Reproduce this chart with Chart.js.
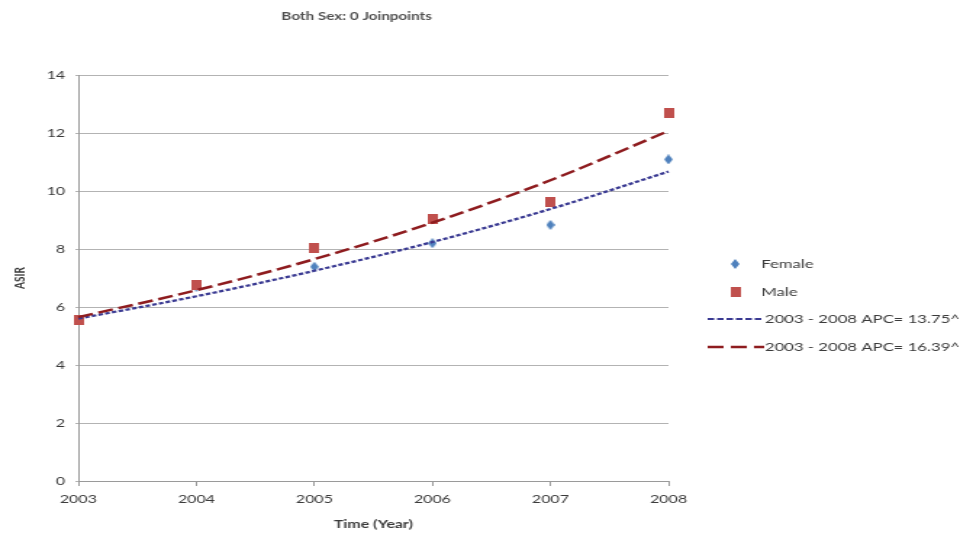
<!DOCTYPE html>
<html>
<head>
<meta charset="utf-8">
<script src="https://cdn.jsdelivr.net/npm/chart.js@4.4.1/dist/chart.umd.min.js"></script>
<style>
html,body{margin:0;padding:0;background:#fff;overflow:hidden;}
#c{display:block;width:973px;height:541px;}
</style>
</head>
<body>
<canvas id="c" width="671" height="541" style="width:973px;height:541px"></canvas>
<script>
const years = ['2003','2004','2005','2006','2007','2008'];
const femaleObserved = [5.55, 6.7, 7.39, 8.2, 8.83, 11.09];
const maleObserved = [5.55, 6.76, 8.02, 9.02, 9.63, 12.68];
const femaleModeled = [5.6, 6.37, 7.25, 8.24, 9.38, 10.67];
const maleModeled = [5.65, 6.58, 7.65, 8.91, 10.37, 12.07];
const seriesNames = ['Female', 'Male', '2003 - 2008 APC= 13.75^', '2003 - 2008 APC= 16.39^'];
const titleText = 'Both Sex: 0 Joinpoints';
const yTicks = [0, 2, 4, 6, 8, 10, 12, 14];

// The reference picture is stretched horizontally; canvas is drawn narrower and widened by CSS.
const FONT = 'Lato, "Open Sans", sans-serif';
const TXT = '#3a3a3a';
const BLUE = '#4F81BD', RED = '#C0504D';
const FIT_BLUE = '#3A3A92', FIT_RED = '#8E1C1F';

function markerCanvas(kind, color) {
  const c = document.createElement('canvas');
  const w = kind === 'diamond' ? 6 : 7, h = 10;
  c.width = w; c.height = h;
  const g = c.getContext('2d');
  g.fillStyle = color;
  if (kind === 'diamond') {
    g.beginPath();
    g.moveTo(w / 2, 0); g.lineTo(w, h / 2); g.lineTo(w / 2, h); g.lineTo(0, h / 2);
    g.closePath(); g.fill();
  } else {
    g.fillRect(0, 0, w, h);
  }
  return c;
}
const diamondImg = markerCanvas('diamond', BLUE);
const squareImg = markerCanvas('square', RED);

const extrasPlugin = {
  id: 'extras',
  afterDraw(chart) {
    const ctx = chart.ctx;
    ctx.save();
    // title
    ctx.font = 'bold 10.5px ' + FONT;
    ctx.fillStyle = '#505050';
    ctx.textAlign = 'center';
    ctx.textBaseline = 'middle';
    ctx.fillText(titleText, 246, 17);
    // legend
    ctx.textAlign = 'left';
    ctx.font = '11.5px ' + FONT;
    const ys = [264, 292, 319, 347];
    ctx.drawImage(diamondImg, 507 - 3, ys[0] - 5);
    ctx.fillStyle = TXT;
    ctx.fillText(seriesNames[0], 525, ys[0]);
    ctx.drawImage(squareImg, 507 - 3.5, ys[1] - 5);
    ctx.fillText(seriesNames[1], 525, ys[1]);
    ctx.lineCap = 'butt';
    ctx.strokeStyle = FIT_BLUE; ctx.lineWidth = 2; ctx.setLineDash([4.5, 2]);
    ctx.beginPath(); ctx.moveTo(488, ys[2]); ctx.lineTo(527, ys[2]); ctx.stroke();
    ctx.strokeStyle = FIT_RED; ctx.lineWidth = 2.5; ctx.setLineDash([11, 5]);
    ctx.beginPath(); ctx.moveTo(488, ys[3]); ctx.lineTo(527, ys[3]); ctx.stroke();
    ctx.setLineDash([]);
    ctx.fillText(seriesNames[2], 527.5, ys[2]);
    ctx.fillText(seriesNames[3], 527.5, ys[3]);
    ctx.restore();
  }
};

new Chart(document.getElementById('c'), {
  type: 'line',
  data: {
    labels: years,
    datasets: [
      { label: seriesNames[0], data: femaleObserved, showLine: false, pointStyle: diamondImg,
        pointRadius: 5, borderColor: BLUE, backgroundColor: BLUE, order: 3 },
      { label: seriesNames[1], data: maleObserved, showLine: false, pointStyle: squareImg,
        pointRadius: 5, borderColor: RED, backgroundColor: RED, order: 2 },
      { label: seriesNames[2], data: femaleModeled, borderColor: FIT_BLUE, borderWidth: 2.3, borderDash: [3.2, 1.6],
        pointRadius: 0, cubicInterpolationMode: 'monotone', fill: false, order: 1 },
      { label: seriesNames[3], data: maleModeled, borderColor: FIT_RED, borderWidth: 2.5, borderDash: [10.5, 4],
        pointRadius: 0, cubicInterpolationMode: 'monotone', fill: false, order: 0 }
    ]
  },
  options: {
    responsive: false,
    animation: false,
    devicePixelRatio: 1,
    layout: { padding: { left: 0, right: 210, top: 75, bottom: 0 } },
    plugins: {
      legend: { display: false },
      tooltip: { enabled: false },
      title: { display: false }
    },
    scales: {
      x: {
        type: 'category',
        offset: false,
        afterFit(scale) { scale.height = 60; },
        grid: { display: true, drawOnChartArea: false, drawTicks: true, tickLength: 5, color: '#9a9a9a' },
        border: { display: true, color: '#9a9a9a' },
        ticks: { color: TXT, font: { family: FONT, size: 11 }, padding: 7, maxRotation: 0, autoSkip: false },
        title: { display: true, text: 'Time (Year)', color: TXT, font: { family: FONT, size: 11, weight: 'bold' },
          padding: { top: 10, bottom: 10 } }
      },
      y: {
        min: 0, max: 14,
        afterFit(scale) { scale.width = 54; },
        afterBuildTicks(scale) { scale.ticks = yTicks.map(v => ({ value: v })); },
        grid: { color: '#b3b3b3', drawTicks: true, tickLength: 2, lineWidth: 1 },
        border: { display: true, color: '#9a9a9a' },
        ticks: { color: TXT, font: { family: FONT, size: 11 }, padding: 7 },
        title: { display: true, text: 'ASIR', color: TXT, font: { family: FONT, size: 10, weight: 'bold' },
          padding: { top: 8, bottom: 0 } }
      }
    }
  },
  plugins: [extrasPlugin]
});
</script>
</body>
</html>
